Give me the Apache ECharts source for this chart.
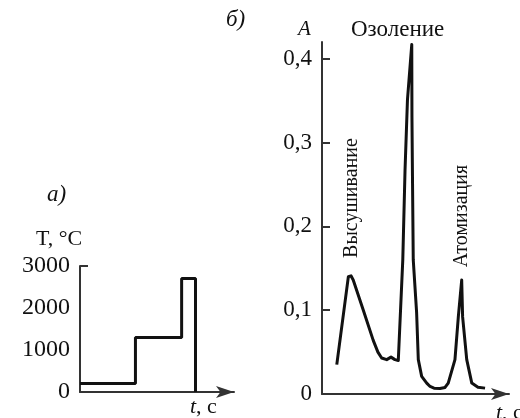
<!DOCTYPE html>
<html>
<head>
<meta charset="utf-8">
<script src="https://cdn.jsdelivr.net/npm/echarts@6/dist/echarts.min.js"></script>
<style>
  html, body { margin: 0; padding: 0; background: #fff; }
  #main { width: 520px; height: 418px; }
</style>
</head>
<body>
<div id="main"></div>
<script>
  // а) температурная программа
  var stepT = [0, 3.6, 3.6, 6.6, 6.6, 7.5, 7.5];
  var stepTemp = [200, 200, 1300, 1300, 2700, 2700, 0];
  var tempTicks = [0, 1000, 2000, 3000];

  // б) абсорбционный сигнал
  var absT = [7.9, 14.1, 15.5, 16.7, 22.1, 27.4, 29.9, 31.9, 34.6, 36.9, 39.0, 40.8,
    43.2, 44.4, 45.7, 48.0, 48.1, 48.3, 48.8, 50.6, 51.5, 53.3, 56.0, 57.8, 59.9,
    63.1, 65.8, 67.5, 71.1, 72.9, 74.7, 75.2, 77.4, 80.1, 83.4, 87.2];
  var absA = [0.035, 0.140, 0.141, 0.136, 0.100, 0.064, 0.050, 0.043, 0.041, 0.044, 0.041, 0.040,
    0.160, 0.267, 0.351, 0.417, 0.331, 0.279, 0.160, 0.097, 0.041, 0.021, 0.013, 0.009, 0.007,
    0.0066, 0.0078, 0.013, 0.041, 0.092, 0.136, 0.092, 0.041, 0.013, 0.008, 0.007];
  var absTicks = [0.1, 0.2, 0.3, 0.4];

  var serif = 'Liberation Serif';
  var ink = '#111';

  function zip(xs, ys) {
    var out = [];
    for (var i = 0; i < xs.length; i++) out.push([xs[i], ys[i]]);
    return out;
  }

  var axisLine = {
    show: true,
    lineStyle: { color: '#333', width: 2 }
  };
  var arrowLine = {
    show: true,
    symbol: ['none', 'arrow'],
    symbolSize: [9, 18],
    lineStyle: { color: '#333', width: 2 }
  };

  var myChart = echarts.init(document.getElementById('main'));
  myChart.setOption({
    backgroundColor: '#fff',
    animation: false,
    grid: [
      { left: 80, top: 266, width: 154, height: 126, outerBoundsMode: 'none' },
      { left: 322, top: 42, width: 187, height: 352, outerBoundsMode: 'none' }
    ],
    xAxis: [
      {
        gridIndex: 0, type: 'value', min: 0, max: 10,
        axisLine: arrowLine, axisTick: { show: false },
        axisLabel: { show: false }, splitLine: { show: false }
      },
      {
        gridIndex: 1, type: 'value', min: 0, max: 100,
        axisLine: arrowLine, axisTick: { show: false },
        axisLabel: { show: false }, splitLine: { show: false }
      }
    ],
    yAxis: [
      {
        gridIndex: 0, type: 'value', min: 0, max: 3000, interval: 1000,
        axisLine: axisLine,
        axisTick: { show: true, inside: true, length: 8, customValues: [3000],
          lineStyle: { color: '#333', width: 2 } },
        axisLabel: {
          margin: 10, color: ink, fontFamily: serif, fontSize: 24,
          customValues: tempTicks,
          formatter: function (v) { return String(v); }
        },
        splitLine: { show: false }
      },
      {
        gridIndex: 1, type: 'value', min: 0, max: 0.42, interval: 0.1,
        axisLine: axisLine,
        axisTick: { show: true, inside: true, length: 8, customValues: absTicks,
          lineStyle: { color: '#333', width: 2 } },
        axisLabel: {
          margin: 10, color: ink, fontFamily: serif, fontSize: 23,
          customValues: [0].concat(absTicks),
          formatter: function (v) {
            return v === 0 ? '0' : v.toFixed(1).replace('.', ',');
          }
        },
        splitLine: { show: false }
      }
    ],
    series: [
      {
        type: 'line', xAxisIndex: 0, yAxisIndex: 0,
        data: zip(stepT, stepTemp), showSymbol: false,
        lineStyle: { color: ink, width: 3 }
      },
      {
        type: 'line', xAxisIndex: 1, yAxisIndex: 1,
        data: zip(absT, absA), showSymbol: false,
        lineStyle: { color: ink, width: 3, join: 'round' }
      }
    ],
    graphic: [
      { type: 'text', left: 47, top: 183, style: { text: 'а)', font: 'italic 23px ' + serif, fill: ink } },
      { type: 'text', left: 36, top: 228, style: { text: 'T, °C', font: '22px ' + serif, fill: ink } },
      { type: 'text', left: 190, top: 396, style: { text: '{i|t}, с', font: '22px ' + serif, fill: ink,
        rich: { i: { fontStyle: 'italic', fontFamily: serif, fontSize: 22 } } } },
      { type: 'text', left: 226, top: 8, style: { text: 'б)', font: 'italic 23px ' + serif, fill: ink } },
      { type: 'text', left: 298, top: 19, style: { text: 'A', font: 'italic 21px ' + serif, fill: ink } },
      { type: 'text', left: 351, top: 18, style: { text: 'Озоление', font: '23px ' + serif, fill: ink } },
      { type: 'text', left: 496, top: 402, style: { text: '{i|t}, с', font: '22px ' + serif, fill: ink,
        rich: { i: { fontStyle: 'italic', fontFamily: serif, fontSize: 22 } } } },
      { type: 'text', x: 352, y: 198, rotation: Math.PI / 2,
        style: { text: 'Высушивание', font: '20px ' + serif, fill: ink, align: 'center', verticalAlign: 'middle' } },
      { type: 'text', x: 462, y: 216, rotation: Math.PI / 2,
        style: { text: 'Атомизация', font: '20px ' + serif, fill: ink, align: 'center', verticalAlign: 'middle' } }
    ]
  });
</script>
</body>
</html>
